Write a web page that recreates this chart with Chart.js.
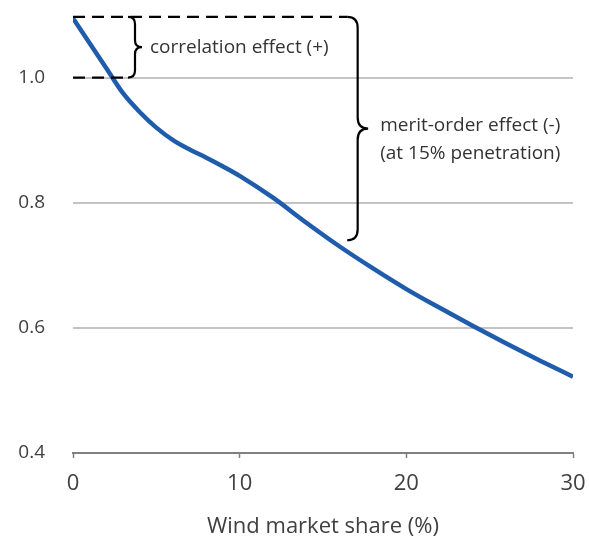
<!DOCTYPE html>
<html><head><meta charset="utf-8">
<script src="https://cdn.jsdelivr.net/npm/chart.js@4"></script>
<style>html,body{margin:0;padding:0;background:#fff}#wrap{width:589px;height:544px}</style>
</head><body><div id="wrap"><canvas id="c" width="589" height="544"></canvas></div>
<script>
const windShare = [0,1,2,3,4,5,6,7,8,9,10,12,14,16,18,20,22,24,26,28,30];
const priceRatio = [1.095,1.055,1.015,0.975,0.945,0.920,0.900,0.885,0.872,0.858,0.843,0.808,0.768,0.730,0.695,0.662,0.632,0.603,0.575,0.548,0.522];
const yTickValues = [0.4,0.6,0.8,1.0];
const xTickValues = [0,10,20,30];
const braceLabels = [
  {name:'correlation effect', xAt:3.3, from:1.0, to:1.097, lines:['correlation effect (+)']},
  {name:'merit-order effect', xAt:16.45, from:0.74, to:1.097, lines:['merit-order effect (-)','(at 15% penetration)']}
];
const FONT = '"Open Sans", Lato, sans-serif';

const annot = {
  id:'annot',
  afterDatasetsDraw(chart){
    const {ctx, scales:{x,y}} = chart;
    ctx.save();
    ctx.strokeStyle = '#000';
    ctx.lineWidth = 2.2;
    ctx.setLineDash([12,7]);
    const x0 = x.getPixelForValue(0);
    ctx.beginPath();
    ctx.moveTo(x0, y.getPixelForValue(braceLabels[1].to));
    ctx.lineTo(x.getPixelForValue(braceLabels[1].xAt), y.getPixelForValue(braceLabels[1].to));
    ctx.stroke();
    ctx.beginPath();
    ctx.moveTo(x0, y.getPixelForValue(braceLabels[0].from));
    ctx.lineTo(x.getPixelForValue(braceLabels[0].xAt), y.getPixelForValue(braceLabels[0].from));
    ctx.stroke();
    ctx.setLineDash([]);
    braceLabels.forEach((b,i)=>{
      const bx = x.getPixelForValue(b.xAt);
      const yt = y.getPixelForValue(b.to), yb = y.getPixelForValue(b.from);
      const w = i===0 ? 14 : 21;
      const r = i===0 ? 7 : 11;
      const mid = (yt+yb)/2;
      ctx.lineWidth = 2.2;
      ctx.beginPath();
      ctx.moveTo(bx, yt);
      ctx.quadraticCurveTo(bx+w/2, yt, bx+w/2, yt+r);
      ctx.lineTo(bx+w/2, mid-r);
      ctx.quadraticCurveTo(bx+w/2, mid, bx+w, mid);
      ctx.quadraticCurveTo(bx+w/2, mid, bx+w/2, mid+r);
      ctx.lineTo(bx+w/2, yb-r);
      ctx.quadraticCurveTo(bx+w/2, yb, bx, yb);
      ctx.stroke();
      ctx.fillStyle = '#333333';
      ctx.font = '19px ' + FONT;
      ctx.textBaseline = 'middle';
      ctx.textAlign = 'left';
      const lh = 28;
      const y0 = i===0 ? mid : mid - 3;
      b.lines.forEach((t,k)=>ctx.fillText(t, bx+w+(i===0?8:12), y0 + k*lh));
    });
    ctx.restore();
  }
};

new Chart(document.getElementById('c'), {
  type:'line',
  data:{datasets:[{data: windShare.map((v,i)=>({x:v,y:priceRatio[i]})), borderColor:'#1f5cab', borderWidth:4.5, pointRadius:0, cubicInterpolationMode:'monotone', fill:false}]},
  options:{
    responsive:false, animation:false,
    layout:{padding:{top:15, right:16, left:0, bottom:0}},
    plugins:{legend:{display:false}, tooltip:{enabled:false}},
    scales:{
      x:{type:'linear', min:0, max:30,
        afterBuildTicks(s){ s.ticks = xTickValues.map(v=>({value:v})); },
        afterFit(s){ s.height = 91; s.paddingLeft = 0; s.paddingRight = 0; },
        grid:{display:true, drawOnChartArea:false, drawTicks:true, tickLength:5, tickColor:'#808080', tickWidth:1.5},
        border:{color:'#808080', width:2},
        ticks:{color:'#404040', font:{family:FONT, size:22}, padding:13, maxRotation:0},
        title:{display:true, text:'Wind market share (%)', color:'#404040', font:{family:FONT, size:22}, padding:{top:2}}
      },
      y:{type:'linear', min:0.4, max:1.1,
        afterBuildTicks(s){ s.ticks = yTickValues.map(v=>({value:v})); },
        afterFit(s){ s.width = 73; s.paddingTop = 0; s.paddingBottom = 0; },
        grid:{color:(c)=> c.tick && c.tick.value===0.4 ? 'rgba(0,0,0,0)' : '#c4c4c4', lineWidth:2, drawTicks:false},
        border:{display:false},
        ticks:{color:'#404040', font:{family:FONT, size:19}, padding:28, callback:(v)=>v.toFixed(1)}
      }
    }
  },
  plugins:[annot]
});
</script>
</body></html>
